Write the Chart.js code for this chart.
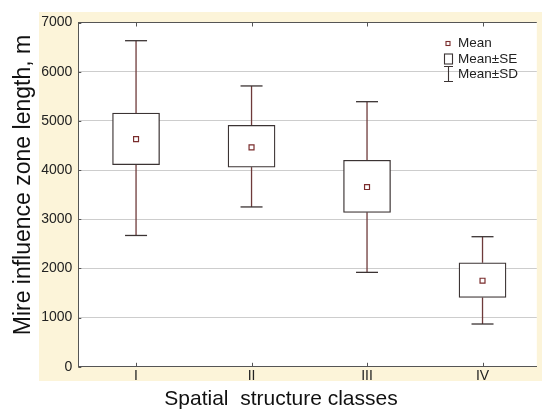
<!DOCTYPE html>
<html>
<head>
<meta charset="utf-8">
<script src="https://cdn.jsdelivr.net/npm/chart.js@4.4.1/dist/chart.umd.min.js"></script>
<style>
  body { margin: 0; background: #fff; overflow: hidden; }
  #wrap { width: 542px; height: 412px; }
</style>
</head>
<body>
<div id="wrap"><canvas id="boxChart" width="542" height="412"></canvas></div>
<script>
// values
const categories = ['I', 'II', 'III', 'IV'];
const means = [4630, 4460, 3655, 1750];
const seLow = [4110, 4060, 3140, 1410];
const seHigh = [5160, 4910, 4200, 2115];
const sdLow = [2670, 3250, 1920, 870];
const sdHigh = [6630, 5710, 5390, 2645];
const yTicks = [0, 1000, 2000, 3000, 4000, 5000, 6000, 7000];
const legendLabels = ['Mean', 'Mean\u00b1SE', 'Mean\u00b1SD'];

const whiskerColor = '#6e3a3a';
const boxColor = '#3b3333';
const axisColor = '#555';
const fontFamily = 'Arial, "Liberation Sans", sans-serif';

const boxPlugin = {
  id: 'boxPlugin',
  beforeDraw(chart) {
    const {ctx, chartArea: a} = chart;
    ctx.save();
    ctx.fillStyle = '#fcf4d9';
    ctx.fillRect(39, 12, 542 - 39, 381 - 12);
    ctx.fillStyle = '#fff';
    ctx.fillRect(a.left, a.top, a.right - a.left, a.bottom - a.top);
    ctx.restore();
  },
  beforeDatasetsDraw(chart) {
    const {ctx, chartArea: a} = chart;
    const x = chart.scales.x, y = chart.scales.y;
    ctx.save();
    // small inward tick marks
    ctx.strokeStyle = axisColor;
    ctx.lineWidth = 1;
    categories.forEach((c, i) => {
      const px = Math.round(x.getPixelForValue(i + 1)) + 0.5;
      ctx.beginPath();
      ctx.moveTo(px, a.top); ctx.lineTo(px, a.top + 4);
      ctx.moveTo(px, a.bottom); ctx.lineTo(px, a.bottom - 4);
      ctx.stroke();
    });
    yTicks.forEach(v => {
      const py = Math.round(y.getPixelForValue(v)) + 0.5;
      ctx.beginPath();
      ctx.moveTo(a.left, py); ctx.lineTo(a.left + 3, py);
      ctx.stroke();
    });
    // whiskers: SE edge -> SD value, with caps
    ctx.lineWidth = 1.3;
    categories.forEach((c, i) => {
      const px = x.getPixelForValue(i + 1);
      const segs = [[seHigh[i], sdHigh[i]], [seLow[i], sdLow[i]]];
      segs.forEach(([from, to]) => {
        ctx.strokeStyle = whiskerColor;
        ctx.beginPath();
        ctx.moveTo(px, y.getPixelForValue(from));
        ctx.lineTo(px, y.getPixelForValue(to));
        ctx.stroke();
        ctx.strokeStyle = boxColor;
        ctx.beginPath();
        ctx.moveTo(px - 11, y.getPixelForValue(to));
        ctx.lineTo(px + 11, y.getPixelForValue(to));
        ctx.stroke();
      });
    });
    ctx.restore();
  },
  afterDraw(chart) {
    const ctx = chart.ctx;
    ctx.save();
    ctx.font = '13.5px ' + fontFamily;
    ctx.fillStyle = '#222';
    ctx.textBaseline = 'middle';
    const rows = [43.5, 59, 74.5];
    legendLabels.forEach((t, i) => ctx.fillText(t, 458, rows[i]));
    // icons
    ctx.lineWidth = 1.1;
    ctx.strokeStyle = '#7a2d2d';
    ctx.strokeRect(446, rows[0] - 2, 4, 4);
    ctx.strokeStyle = boxColor;
    ctx.strokeRect(444.5, rows[1] - 5, 8, 10);
    ctx.beginPath();
    ctx.moveTo(444, rows[2] - 8); ctx.lineTo(453, rows[2] - 8);
    ctx.moveTo(448.5, rows[2] - 8); ctx.lineTo(448.5, rows[2] + 7);
    ctx.moveTo(444, rows[2] + 7); ctx.lineTo(453, rows[2] + 7);
    ctx.stroke();
    ctx.restore();
  }
};

new Chart(document.getElementById('boxChart').getContext('2d'), {
  type: 'bar',
  data: {
    datasets: [
      {
        type: 'bar',
        label: 'Mean\u00b1SE',
        data: categories.map((c, i) => ({x: i + 1, y: [seLow[i], seHigh[i]]})),
        backgroundColor: '#fff',
        borderColor: boxColor,
        borderWidth: 1.3,
        borderSkipped: false,
        barThickness: 47,
        order: 1
      },
      {
        type: 'scatter',
        label: 'Mean',
        data: categories.map((c, i) => ({x: i + 1, y: means[i]})),
        pointStyle: 'rect',
        pointRadius: 3.5,
        backgroundColor: '#fff',
        borderColor: '#7a2d2d',
        borderWidth: 1.2,
        order: 0
      }
    ]
  },
  options: {
    responsive: false,
    animation: false,
    layout: {padding: {left: 20, top: 22.5, right: 0, bottom: 0}},
    plugins: {
      legend: {display: false},
      tooltip: {enabled: false},
      title: {
        display: true,
        position: 'bottom',
        text: 'Spatial  structure classes',
        color: '#111',
        font: {family: fontFamily, size: 21, weight: 'normal', lineHeight: 1.2},
        padding: {top: 0, bottom: 0}
      }
    },
    scales: {
      x: {
        type: 'linear',
        min: 0.5,
        max: 4.47,
        offset: false,
        afterBuildTicks: s => { s.ticks = categories.map((c, i) => ({value: i + 1})); },
        afterFit: s => { s.height = 20; },
        ticks: {
          callback: v => categories[v - 1],
          color: '#222',
          font: {family: fontFamily, size: 14},
          padding: 1,
          maxRotation: 0
        },
        grid: {display: false, drawTicks: false},
        border: {color: axisColor, width: 1}
      },
      y: {
        min: 0,
        max: 7000,
        afterBuildTicks: s => { s.ticks = yTicks.map(v => ({value: v})); },
        afterFit: s => { s.width = 58.3; },
        ticks: {
          callback: v => String(v),
          color: '#222',
          font: {family: fontFamily, size: 14},
          padding: 6
        },
        grid: {
          color: c => c.tick && c.tick.value === 7000 ? axisColor : '#cdcdcd',
          drawTicks: false
        },
        border: {color: axisColor, width: 1},
        title: {
          display: true,
          text: '   Mire influence zone length, m',
          color: '#111',
          font: {family: fontFamily, size: 23, lineHeight: 1.2},
          padding: {top: -9.8, bottom: 0}
        }
      }
    }
  },
  plugins: [boxPlugin]
});
</script>
</body>
</html>
